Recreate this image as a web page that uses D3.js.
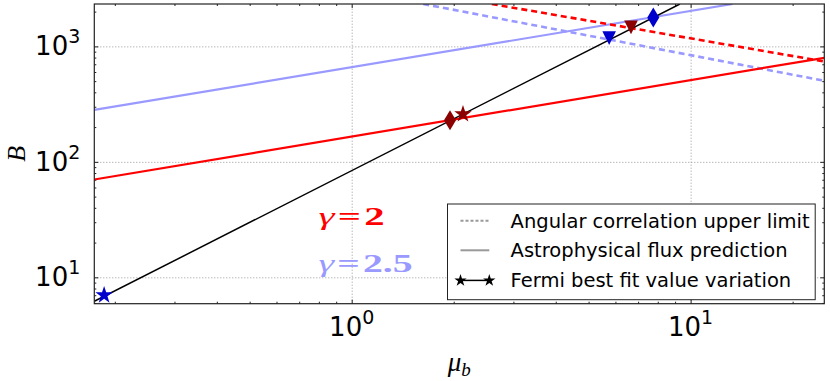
<!DOCTYPE html>
<html>
<head>
<meta charset="utf-8">
<script src="https://cdn.jsdelivr.net/npm/d3@7"></script>
<style>
  html, body { margin: 0; padding: 0; background: #fff; }
  svg { display: block; }
</style>
</head>
<body>
<svg id="chart" width="830" height="381"></svg>
<script>
// ---------------- data ----------------
const xDomain = [0.174, 24.8];          // mu_b axis range
const yDomain = [5.91, 2328];           // B axis range
const xMajorTicks = [1, 10];
const xMinorTicks = [0.2,0.3,0.4,0.5,0.6,0.7,0.8,0.9,2,3,4,5,6,7,8,9,20];
const yMajorTicks = [10, 100, 1000];
const yMinorTicks = [6,7,8,9,20,30,40,50,60,70,80,90,200,300,400,500,600,700,800,900,2000];
const xTickExponents = ["0", "1"];
const yTickExponents = ["1", "2", "3"];

// Astrophysical flux prediction (solid)
const astroG2Mu = [0.174, 24.8];
const astroG2B  = [70.3, 796];
const astroG25Mu = [0.174, 13.3];
const astroG25B  = [282, 2328];
// Angular correlation upper limit (dashed)
const upperG2Mu = [2.59, 24.8];
const upperG2B  = [2328, 740];
const upperG25Mu = [1.626, 24.8];
const upperG25B  = [2328, 504];
// Fermi best fit value variation (black)
const fermiMu = [0.174, 9.3];
const fermiB  = [6.2, 2328];
// Markers
const markerMu    = [0.186, 1.95, 2.13, 5.75, 6.67, 7.76];
const markerB     = [7.0, 229, 259, 1180, 1462, 1782];
const markerKind  = ["star", "diamond", "star", "triangle", "triangle", "diamond"];
const markerGamma = ["2.5", "2", "2", "2.5", "2", "2.5"];

const legendLabels = ["Angular correlation upper limit", "Astrophysical flux prediction", "Fermi best fit value variation"];
const gammaLabels = ["2", "2.5"];

// ---------------- layout / style ----------------
const L = 94.3, R = 824.3, T = 4, B = 303.7;
const RED = "#ff0000", LBLUE = "#9999ff", DARKRED = "#8b0000", BLUE = "#0000cd";
const markerColor = { "2": DARKRED, "2.5": BLUE };

const svg = d3.select("#chart");
const x = d3.scaleLog().domain(xDomain).range([L, R]);
const y = d3.scaleLog().domain(yDomain).range([B, T]);

svg.append("defs").append("clipPath").attr("id", "clip")
  .append("rect").attr("x", L).attr("y", T).attr("width", R - L).attr("height", B - T);

// grid
const gridStyle = g => {
  g.select(".domain").remove();
  g.selectAll("line").attr("stroke", "#999").attr("stroke-width", 1).attr("stroke-dasharray", "1,2");
};
svg.append("g").attr("transform", `translate(0,${B})`)
  .call(d3.axisBottom(x).tickValues(xMajorTicks).tickSize(-(B - T)).tickFormat(""))
  .call(gridStyle);
svg.append("g").attr("transform", `translate(${L},0)`)
  .call(d3.axisLeft(y).tickValues(yMajorTicks).tickSize(-(R - L)).tickFormat(""))
  .call(gridStyle);

// ticks (inside, all four sides)
const tickStyle = g => {
  g.select(".domain").remove();
  g.selectAll("line").attr("stroke", "#222").attr("stroke-width", 1);
};
function addTicks(axisFn, scale, vals, size, transform) {
  svg.append("g").attr("transform", transform)
    .call(axisFn(scale).tickValues(vals).tickSize(-size).tickFormat(""))
    .call(tickStyle);
}
addTicks(d3.axisBottom, x, xMajorTicks, 4, `translate(0,${B})`);
addTicks(d3.axisBottom, x, xMinorTicks, 2, `translate(0,${B})`);
addTicks(d3.axisTop, x, xMajorTicks, 4, `translate(0,${T})`);
addTicks(d3.axisTop, x, xMinorTicks, 2, `translate(0,${T})`);
addTicks(d3.axisLeft, y, yMajorTicks, 4, `translate(${L},0)`);
addTicks(d3.axisLeft, y, yMinorTicks, 2, `translate(${L},0)`);
addTicks(d3.axisRight, y, yMajorTicks, 4, `translate(${R},0)`);
addTicks(d3.axisRight, y, yMinorTicks, 2, `translate(${R},0)`);

// tick labels
const tickFont = "'DejaVu Sans', sans-serif";
xMajorTicks.forEach((v, i) => {
  const t = svg.append("text").attr("x", x(v)).attr("y", B + 32.3)
    .attr("text-anchor", "middle").attr("font-family", tickFont).attr("font-size", 26).attr("fill", "#000");
  t.append("tspan").text("10");
  t.append("tspan").attr("font-size", 19).attr("dy", -12).text(xTickExponents[i]);
});
yMajorTicks.forEach((v, i) => {
  const t = svg.append("text").attr("x", L - 14).attr("y", y(v) + 9)
    .attr("text-anchor", "end").attr("font-family", tickFont).attr("font-size", 26).attr("fill", "#000");
  t.append("tspan").text("10");
  t.append("tspan").attr("font-size", 19).attr("dy", -12).text(yTickExponents[i]);
});

// lines
const plot = svg.append("g").attr("clip-path", "url(#clip)");
const line = d3.line().x(d => x(d[0])).y(d => y(d[1]));
function drawLine(mus, bs, color, width, dash) {
  plot.append("path").datum(d3.zip(mus, bs)).attr("d", line)
    .attr("fill", "none").attr("stroke", color).attr("stroke-width", width)
    .attr("stroke-dasharray", dash || null);
}
drawLine(astroG25Mu, astroG25B, LBLUE, 2.2);
drawLine(upperG25Mu, upperG25B, LBLUE, 2.6, "6,4");
drawLine(astroG2Mu, astroG2B, RED, 2.2);
drawLine(upperG2Mu, upperG2B, RED, 2.6, "6,4");
drawLine(fermiMu, fermiB, "#000", 1.5);

// markers
function starPath(r) {
  const pts = [];
  for (let k = 0; k < 10; k++) {
    const rr = k % 2 === 0 ? r : r * 0.382;
    const a = -Math.PI / 2 + k * Math.PI / 5;
    pts.push([rr * Math.cos(a), rr * Math.sin(a)]);
  }
  return "M" + pts.map(p => p[0].toFixed(2) + "," + p[1].toFixed(2)).join("L") + "Z";
}
const shapePath = {
  star: starPath(9.2),
  diamond: "M0,-10L6,0L0,10L-6,0Z",
  triangle: "M-6.8,-6.8L6.8,-6.8L0,6.8Z"
};
const mg = svg.append("g");
markerMu.forEach((m, i) => {
  mg.append("path").attr("d", shapePath[markerKind[i]])
    .attr("transform", `translate(${x(m)},${y(markerB[i])})`)
    .attr("fill", markerColor[markerGamma[i]]);
});

// frame
svg.append("rect").attr("x", L).attr("y", T).attr("width", R - L).attr("height", B - T)
  .attr("fill", "none").attr("stroke", "#222").attr("stroke-width", 1.2);

// gamma labels
const gammaColors = [RED, LBLUE];
const gammaY = [225, 272];
const gammaWidth = [66, 94];
gammaLabels.forEach((g, i) => {
  const t = svg.append("text").attr("x", 318.6).attr("y", gammaY[i])
    .attr("font-family", "'Liberation Serif', serif").attr("font-weight", "bold")
    .attr("font-size", 26).attr("fill", gammaColors[i])
    .attr("textLength", gammaWidth[i]).attr("lengthAdjust", "spacingAndGlyphs");
  t.append("tspan").attr("font-style", "italic").attr("font-weight", "normal").text("γ");
  t.append("tspan").attr("dx", 2).text("=");
  t.append("tspan").attr("dx", 2).text(g);
});

// legend
const lg = svg.append("g");
lg.append("rect").attr("x", 447.5).attr("y", 204).attr("width", 367.7).attr("height", 95.7)
  .attr("fill", "#fff").attr("stroke", "#222").attr("stroke-width", 1);
const rowY = [220.8, 250.3, 280.4];
const hx0 = 460.5, hx1 = 489.3;
lg.append("line").attr("x1", hx0).attr("x2", hx1).attr("y1", rowY[0]).attr("y2", rowY[0])
  .attr("stroke", "#999").attr("stroke-width", 2).attr("stroke-dasharray", "3,2");
lg.append("line").attr("x1", hx0).attr("x2", hx1).attr("y1", rowY[1]).attr("y2", rowY[1])
  .attr("stroke", "#999").attr("stroke-width", 2);
lg.append("line").attr("x1", hx0).attr("x2", hx1).attr("y1", rowY[2]).attr("y2", rowY[2])
  .attr("stroke", "#000").attr("stroke-width", 1.5);
[hx0, hx1].forEach(hx => {
  lg.append("path").attr("d", starPath(6.5)).attr("transform", `translate(${hx},${rowY[2]})`).attr("fill", "#000");
});
legendLabels.forEach((s, i) => {
  lg.append("text").attr("x", 510.6).attr("y", rowY[i] + 7)
    .attr("font-family", tickFont).attr("font-size", 19.5).attr("fill", "#000").text(s);
});

// axis titles
svg.append("text").attr("transform", `translate(25,${(T + B) / 2}) rotate(-90)`)
  .attr("text-anchor", "middle").attr("font-family", "'Liberation Serif', serif")
  .attr("font-style", "italic").attr("font-size", 26).attr("fill", "#000").text("B");
const xl = svg.append("text").attr("x", (L + R) / 2).attr("y", 371)
  .attr("text-anchor", "middle").attr("font-family", "'Liberation Serif', serif")
  .attr("font-style", "italic").attr("font-size", 27).attr("fill", "#000");
xl.append("tspan").text("μ");
xl.append("tspan").attr("font-size", 19).attr("dy", 5).text("b");
</script>
</body>
</html>
